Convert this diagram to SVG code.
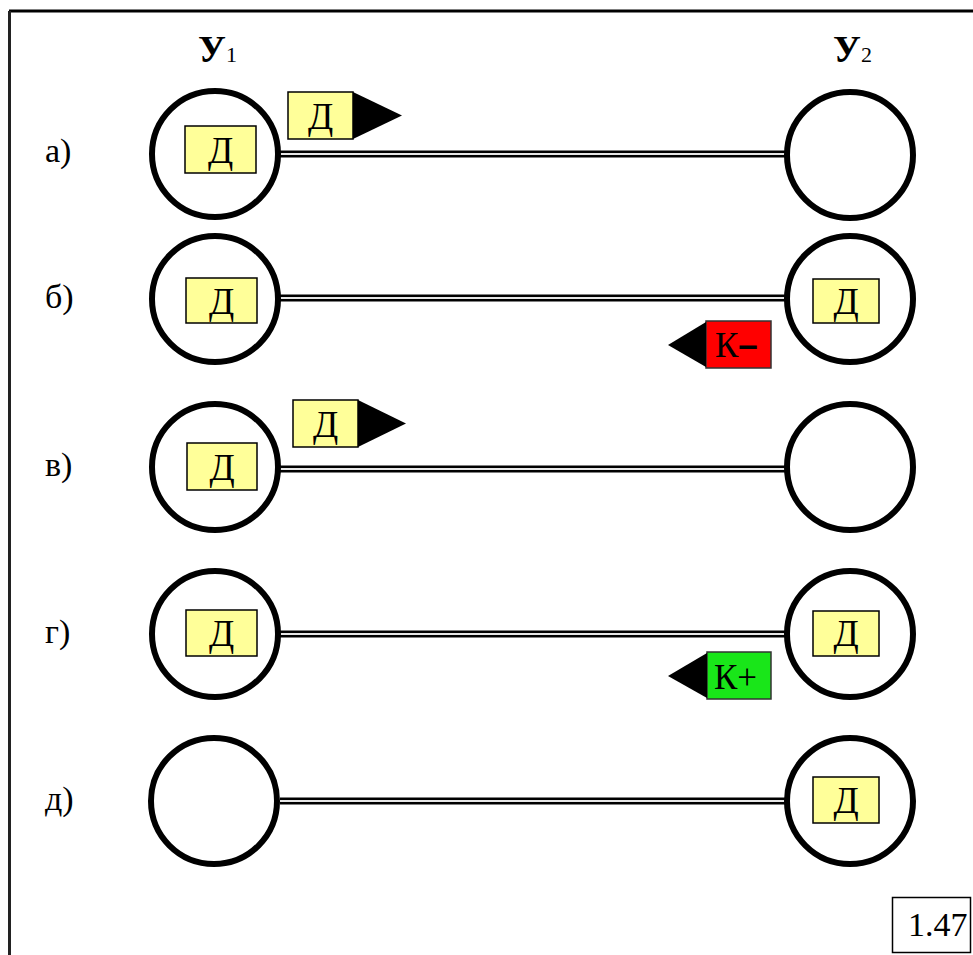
<svg xmlns="http://www.w3.org/2000/svg" width="973" height="955" viewBox="0 0 973 955">
<style>
.ring{fill:#fff;stroke:#000;stroke-width:6}
.lineo{stroke:#000;stroke-width:7}
.linei{stroke:#e6e6e6;stroke-width:2.2}
.box{fill:#ffff99;stroke:#000;stroke-width:1.5}
.red{fill:#ff0000;stroke:#333;stroke-width:1.5}
.green{fill:#19e619;stroke:#333;stroke-width:1.5}
.t{font-family:"Liberation Serif","Times New Roman","DejaVu Serif",serif;fill:#000}
.d{font-size:37px;text-anchor:middle}
.lab{font-size:34px}
.tri{fill:#000}
</style>
<g id="frame">
<line x1="9" y1="11" x2="973" y2="11" stroke="#000" stroke-width="3"/>
<line x1="9.5" y1="11" x2="9.5" y2="955" stroke="#222" stroke-width="3"/>
</g>
<g id="headers">
<text class="t" x="198" y="62" font-size="38" font-weight="bold">У<tspan font-size="22" font-weight="normal">1</tspan></text>
<text class="t" x="833" y="62" font-size="38" font-weight="bold">У<tspan font-size="22" font-weight="normal">2</tspan></text>
</g>
<g id="row-labels">
<text class="t lab" x="45" y="162">а)</text>
<text class="t lab" x="45" y="308">б)</text>
<text class="t lab" x="45" y="476">в)</text>
<text class="t lab" x="45" y="643">г)</text>
<text class="t lab" x="45" y="810">д)</text>
</g>
<g id="connectors">
<line class="lineo" x1="280" y1="154" x2="786" y2="154"/><line class="linei" x1="280" y1="154" x2="786" y2="154"/>
<line class="lineo" x1="280" y1="298" x2="786" y2="298"/><line class="linei" x1="280" y1="298" x2="786" y2="298"/>
<line class="lineo" x1="280" y1="469" x2="786" y2="469"/><line class="linei" x1="280" y1="469" x2="786" y2="469"/>
<line class="lineo" x1="280" y1="634" x2="786" y2="634"/><line class="linei" x1="280" y1="634" x2="786" y2="634"/>
<line class="lineo" x1="280" y1="801" x2="786" y2="801"/><line class="linei" x1="280" y1="801" x2="786" y2="801"/>
</g>
<g id="node-a-u1"><circle class="ring" cx="215" cy="154" r="63"/><rect class="box" x="185" y="126" width="71" height="47"/><text class="t d" x="220.5" y="163">Д</text></g>
<g id="node-a-u2"><circle class="ring" cx="850" cy="155" r="63"/></g>
<g id="msg-a"><rect class="box" x="288" y="92" width="65" height="47"/><text class="t d" x="320.5" y="129">Д</text><polygon class="tri" points="353,92 402,115.5 353,139"/></g>

<g id="node-b-u1"><circle class="ring" cx="215" cy="299" r="63"/><rect class="box" x="186" y="278" width="71" height="45"/><text class="t d" x="221.5" y="314">Д</text></g>
<g id="node-b-u2"><circle class="ring" cx="850" cy="299" r="63"/><rect class="box" x="813" y="279" width="66" height="44"/><text class="t d" x="846" y="314">Д</text></g>
<g id="msg-b"><rect class="red" x="706" y="321" width="65" height="47"/><text class="t" x="715" y="357" font-size="35">К<tspan font-family="Liberation Sans, Arial, sans-serif" font-weight="bold">–</tspan></text><polygon class="tri" points="706,322 668,345 706,367"/></g>

<g id="node-c-u1"><circle class="ring" cx="215" cy="467" r="63"/><rect class="box" x="187" y="443" width="70" height="47"/><text class="t d" x="222" y="480">Д</text></g>
<g id="node-c-u2"><circle class="ring" cx="850" cy="467" r="63"/></g>
<g id="msg-c"><rect class="box" x="293" y="400" width="65" height="47"/><text class="t d" x="325.5" y="437">Д</text><polygon class="tri" points="358,400 406,423.5 358,447"/></g>

<g id="node-d-u1"><circle class="ring" cx="215" cy="634" r="63"/><rect class="box" x="186" y="610" width="71" height="46"/><text class="t d" x="221.5" y="646">Д</text></g>
<g id="node-d-u2"><circle class="ring" cx="850" cy="634" r="63"/><rect class="box" x="813" y="611" width="66" height="45"/><text class="t d" x="846" y="646">Д</text></g>
<g id="msg-d"><rect class="green" x="707" y="652" width="64" height="47"/><text class="t" x="714" y="689" font-size="35">К+</text><polygon class="tri" points="707,653 668,676 707,698"/></g>

<g id="node-e-u1"><circle class="ring" cx="214" cy="801" r="63"/></g>
<g id="node-e-u2"><circle class="ring" cx="850" cy="801" r="63"/><rect class="box" x="813" y="777" width="66" height="46"/><text class="t d" x="846" y="813">Д</text></g>

<g id="figure-number"><rect x="892.5" y="897.5" width="78" height="55" fill="#fff" stroke="#000" stroke-width="1.5"/><text class="t" x="908" y="936" font-size="34">1.47</text></g>
</svg>
